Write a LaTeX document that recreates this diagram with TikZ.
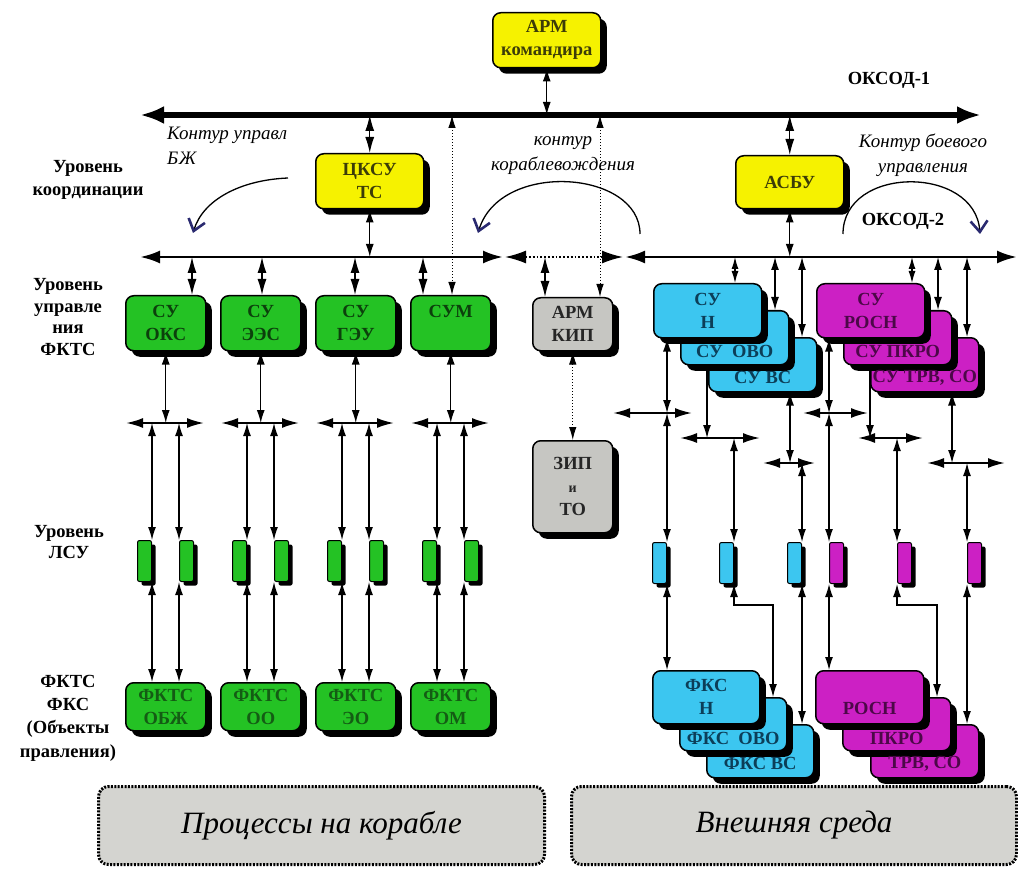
\documentclass[tikz,border=0pt]{standalone}
\usepackage{fontspec}
\setmainfont{Liberation Serif}
\usetikzlibrary{arrows.meta,shadows}

\definecolor{boxyellow}{HTML}{F6F200}
\definecolor{boxgreen}{HTML}{24C224}
\definecolor{boxcyan}{HTML}{3CC6F0}
\definecolor{boxmag}{HTML}{CC20C4}
\definecolor{boxgrey}{HTML}{C6C6C2}
\definecolor{panelgrey}{HTML}{D4D4D0}
\definecolor{navyink}{HTML}{2A2A70}
\definecolor{yellowink}{HTML}{3C3C08}
\definecolor{greenink}{HTML}{0C400C}
\definecolor{fktsink}{HTML}{145C14}
\definecolor{cyanink}{HTML}{0C3E58}
\definecolor{magink}{HTML}{4C0848}

\newcommand\bxfont{\bfseries\fontsize{18.5}{23}\selectfont}
\newcommand\lblfont{\bfseries\fontsize{18.5}{23}\selectfont}
\newcommand\itfont{\itshape\fontsize{19}{25}\selectfont}

\begin{document}
\begin{tikzpicture}[x=1pt,y=-1pt,
  box/.style={draw=black, line width=1.5pt, rounded corners=8pt, inner sep=0pt,
    align=center, anchor=north west, font=\bxfont,
    drop shadow={shadow xshift=6pt, shadow yshift=-6pt, fill=black, opacity=1}},
  ybox/.style={box, fill=boxyellow, text=yellowink, minimum width=108pt, minimum height=55pt},
  gbox/.style={box, fill=boxgreen, text=greenink, minimum width=80pt, minimum height=55pt},
  fbox/.style={box, fill=boxgreen, text=fktsink, minimum width=80pt, minimum height=48pt},
  sbox/.style={box, fill=boxgrey, text=black!85, minimum width=80pt},
  cbox/.style={box, fill=boxcyan, text=cyanink, minimum width=108pt, minimum height=54pt},
  mbox/.style={box, fill=boxmag, text=magink, minimum width=108pt, minimum height=54pt},
  cfks/.style={cbox, minimum width=107pt, minimum height=53pt},
  mfks/.style={mbox, minimum height=53pt},
  lsu/.style={draw=black, line width=1pt, rounded corners=2pt, inner sep=0pt,
    minimum width=14pt, minimum height=41pt,
    drop shadow={shadow xshift=4pt, shadow yshift=-4pt, fill=black, opacity=1}},
  lsug/.style={lsu, fill=boxgreen, anchor=north east},
  lsugr/.style={lsu, fill=boxgreen, anchor=north west},
  lsuc/.style={lsu, fill=boxcyan, anchor=north east},
  lsum/.style={lsu, fill=boxmag, anchor=north west},
  lbl/.style={font=\lblfont, align=center, inner sep=0pt},
  itl/.style={font=\itfont, inner sep=0pt},
  intxt/.style={font=\bxfont, inner sep=0pt},
  dbl/.style={line width=1.2pt, {Latex[length=13pt,width=8pt]}-{Latex[length=13pt,width=8pt]}},
  sgl/.style={line width=1.2pt, -{Latex[length=13pt,width=8pt]}},
  dia/.style={line width=1.2pt, {Latex[length=16pt,width=9pt]}-{Latex[length=16pt,width=9pt]}},
  diashort/.style={line width=1.2pt, {Latex[length=12pt,width=7pt]}-{Latex[length=12pt,width=7pt]}},
  dotarr/.style={line width=1pt, dotted, {Latex[length=13pt,width=7.5pt]}-{Latex[length=13pt,width=7.5pt]}},
  junc/.style={line width=2pt, {Latex[length=17pt,width=10pt]}-{Latex[length=17pt,width=10pt]}},
  busA/.style={line width=6pt, {Latex[length=24pt,width=18pt]}-{Latex[length=24pt,width=18pt]}},
  busB/.style={line width=2.8pt, {Latex[length=20pt,width=13pt]}-{Latex[length=20pt,width=13pt]}},
  busM/.style={line width=1.8pt, dotted, {Latex[length=21pt,width=13pt]}-{Latex[length=21pt,width=13pt]}},
  loop/.style={line width=1.3pt, -{Straight Barb[length=11pt,width=17pt,line width=2.6pt,color=navyink]}},
  panel/.style={draw=black, fill=panelgrey, line width=3pt, dash pattern=on 2pt off 1.4pt,
    rounded corners=10pt, minimum height=78pt, anchor=north west, inner sep=0pt,
    font=\itshape\fontsize{31}{33}\selectfont}
]
\useasboundingbox (0,0) rectangle (1018,869);

% ---------- buses ----------
\coordinate (b1w) at (140,115);
\coordinate (b1e) at (981,115);
\coordinate (b2w) at (140,257);
\coordinate (b2e) at (503,257);
\coordinate (b3w) at (505,257);
\coordinate (b3e) at (623,257);
\coordinate (b4w) at (625,257);
\coordinate (b4e) at (1017,257);
\draw[busA] (b1w) -- (b1e);
\draw[busB] (b2w) -- (b2e);
\draw[busM] (b3w) -- (b3e);
\draw[busB] (b4w) -- (b4e);

% ---------- coordination level ----------
\node[ybox] (armk) at (492,12) {АРМ\\командира};
\node[ybox, minimum height=55pt] (ckcu) at (315,153) {ЦКСУ\\ТС};
\node[ybox, minimum height=53pt] (asbu) at (735,155) {АСБУ};

\draw[dbl] (armk.south) -- (armk.south |- b1w);
\draw[dia] (ckcu.north) -- (ckcu.north |- b1w);
\draw[dbl] (ckcu.south) -- (ckcu.south |- b2w);
\draw[dia] (asbu.north) -- (asbu.north |- b1w);
\draw[dbl] (asbu.south) -- (asbu.south |- b4w);

\node[lbl] (oksod1) at (889,80) {ОКСОД-1};
\node[lbl] (oksod2) at (903,221) {ОКСОД-2};

\node[itl, align=left, anchor=north west] (kbzh) at (167,127) {Контур управл\\БЖ};
\node[itl, align=center] (knav) at (563,156) {контур\\кораблевождения};
\node[itl, align=center] (kbattle) at (923,155) {Контур боевого\\управления};

\coordinate (c1s) at (288,178);
\coordinate (c1e) at (193,233);
\draw[loop] (c1s) .. controls (240,180) and (203,200) .. (c1e);
\coordinate (c2s) at (640,234);
\coordinate (c2e) at (478,233);
\draw[loop] (c2s) .. controls (640,170) and (500,160) .. (c2e);
\coordinate (c3s) at (843,234);
\coordinate (c3e) at (980,234);
\draw[loop] (c3s) .. controls (843,165) and (975,165) .. (c3e);

% ---------- level labels ----------
\node[lbl] (lvl1) at (88,180) {Уровень\\координации};
\node[lbl, font=\bfseries\fontsize{18.5}{21.7}\selectfont] (lvl2) at (68,317) {Уровень\\управле\\ния\\ФКТС};
\node[lbl, font=\bfseries\fontsize{18.5}{20.5}\selectfont] (lvl3) at (69,542) {Уровень\\ЛСУ};
\node[lbl, font=\bfseries\fontsize{18.5}{23.3}\selectfont] (lvl4) at (68,718) {ФКТС\\ФКС\\(Объекты\\правления)};

% ---------- ship systems (green) ----------
\node[gbox] (su1) at (125,295) {СУ\\ОКС};
\node[gbox] (su2) at (220,295) {СУ\\ЭЭС};
\node[gbox] (su3) at (315,295) {СУ\\ГЭУ};
\node[gbox] (su4) at (410,295) {СУМ\\\phantom{СУ}};

\node[fbox] (fk1) at (125,682) {ФКТС\\ОБЖ};
\node[fbox] (fk2) at (220,682) {ФКТС\\ОО};
\node[fbox] (fk3) at (315,682) {ФКТС\\ЭО};
\node[fbox] (fk4) at (410,682) {ФКТС\\ОМ};

\foreach \i/\tx in {1/192,2/262,3/355,4/423}{
  \coordinate (tg\i) at (\tx,257);
  \draw[dia] (tg\i) -- (tg\i |- su\i.north);
}

\foreach \i/\cx in {1/165,2/260,3/355,4/450}{
  \coordinate (jg\i) at (\cx,423);
  \draw[dbl] (su\i.south) -- (su\i.south |- jg\i);
  \draw[junc] ([xshift=-39pt]jg\i) -- ([xshift=39pt]jg\i);
  \node[lsug]  (lg\i a) at (\cx-13,540) {};
  \node[lsugr] (lg\i b) at (\cx+14,540) {};
  \draw[dbl] (lg\i a.north east) -- (lg\i a.north east |- jg\i);
  \draw[dbl] (lg\i b.north west) -- (lg\i b.north west |- jg\i);
  \draw[dbl] (lg\i a.south east) -- (lg\i a.south east |- fk\i.north);
  \draw[dbl] (lg\i b.south west) -- (lg\i b.south west |- fk\i.north);
}

% ---------- instrumentation (grey) ----------
\node[sbox, minimum height=53pt] (armkip) at (532,297) {АРМ\\КИП};
\node[sbox, minimum height=92pt] (zip) at (532,440) {ЗИП\\{\fontsize{14}{23}\selectfont и}\\ТО};
\coordinate (tk) at (545,257);
\draw[dia] (tk) -- (tk |- armkip.north);
\draw[dotarr] (armkip.south) -- (zip.north);

% dotted links from the upper bus
\coordinate (ts) at (452,115);
\draw[dotarr] (ts) -- (ts |- su4.north);
\coordinate (tki) at (600,115);
\draw[dotarr] (tki) -- (tki |- armkip.north);

% ---------- navigation / weapons (cyan, magenta) ----------
\node[cbox] (suvs) at (708,337) {};
\node[cbox] (suovo) at (680,310) {};
\node[cbox] (sun) at (653,283) {СУ\\Н};
\node[intxt, text=cyanink] (tovo) at ([yshift=14pt]suovo.south) {СУ\ \ ОВО};
\node[intxt, text=cyanink] (tvs) at ([yshift=15pt]suvs.south) {СУ ВС};

\node[mbox] (sutrv) at (870,337) {};
\node[mbox] (supkro) at (843,310) {};
\node[mbox] (surosn) at (816,283) {СУ\\РОСН};
\node[intxt, text=magink] (tpkro) at ([yshift=14pt]supkro.south) {СУ ПКРО};
\node[intxt, text=magink] (ttrv) at ([yshift=15pt]sutrv.south) {СУ ТРВ, СО};

\node[cfks] (fvs) at (706,724) {};
\node[cfks] (fovo) at (679,697) {};
\node[cfks] (fn) at (652,670) {ФКС\\Н};
\node[intxt, text=cyanink] (tfovo) at ([yshift=13pt]fovo.south) {ФКС\ \ ОВО};
\node[intxt, text=cyanink] (tfvs) at ([yshift=15pt]fvs.south) {ФКС ВС};

\node[mfks] (ftrv) at (870,724) {};
\node[mfks] (fpkro) at (842,697) {};
\node[mfks] (frosn) at (815,670) {\phantom{ФКС}\\РОСН};
\node[intxt, text=magink] (tfpkro) at ([yshift=13pt]fpkro.south) {ПКРО};
\node[intxt, text=magink] (tftrv) at ([yshift=15pt]ftrv.south) {ТРВ, СО};

% taps from the lower bus
\coordinate (tc1) at (735,257);
\coordinate (tc2) at (775,257);
\coordinate (tc3) at (802,257);
\coordinate (tm1) at (912,257);
\coordinate (tm2) at (938,257);
\coordinate (tm3) at (967,257);
\draw[diashort] (tc1) -- (tc1 |- sun.north);
\draw[dbl] (tc2) -- (tc2 |- suovo.north);
\draw[dbl] (tc3) -- (tc3 |- suvs.north);
\draw[diashort] (tm1) -- (tm1 |- surosn.north);
\draw[dbl] (tm2) -- (tm2 |- supkro.north);
\draw[dbl] (tm3) -- (tm3 |- sutrv.north);

% local control units
\node[lsuc] (lc1) at (667,542) {};
\node[lsuc] (lc2) at (734,542) {};
\node[lsuc] (lc3) at (802,542) {};
\node[lsum] (lm1) at (829,542) {};
\node[lsum] (lm2) at (897,542) {};
\node[lsum] (lm3) at (967,542) {};

% junctions
\coordinate (jA) at (667,413);
\coordinate (jB) at (707,438);
\coordinate (jC) at (790,463);
\coordinate (jD) at (829,413);
\coordinate (jE) at (870,438);
\coordinate (jF) at (952,463);

\draw[dbl] (jA |- sun.south) -- (jA);
\draw[junc] ([xshift=-54pt]jA) -- ([xshift=25pt]jA);
\draw[dbl] (lc1.north east) -- (lc1.north east |- jA);

\draw[sgl] (jB |- suovo.south) -- (jB);
\draw[junc] ([xshift=-27pt]jB) -- ([xshift=53pt]jB);
\draw[dbl] (lc2.north east) -- (lc2.north east |- jB);

\draw[dbl] (jC |- suvs.south) -- (jC);
\draw[junc] ([xshift=-27pt]jC) -- ([xshift=25pt]jC);
\draw[dbl] (lc3.north east) -- (lc3.north east |- jC);

\draw[dbl] (jD |- surosn.south) -- (jD);
\draw[junc] ([xshift=-26pt]jD) -- ([xshift=39pt]jD);
\draw[dbl] (lm1.north west) -- (lm1.north west |- jD);

\draw[sgl] (jE |- supkro.south) -- (jE);
\draw[junc] ([xshift=-12pt]jE) -- ([xshift=53pt]jE);
\draw[dbl] (lm2.north west) -- (lm2.north west |- jE);

\draw[dbl] (jF |- sutrv.south) -- (jF);
\draw[junc] ([xshift=-25pt]jF) -- ([xshift=53pt]jF);
\draw[dbl] (lm3.north west) -- (lm3.north west |- jF);

% links to the objects
\coordinate (kB) at (773,605);
\coordinate (kE) at (937,605);
\draw[dbl] (lc1.south east) -- (lc1.south east |- fn.north);
\draw[dbl] (lc2.south east) |- (kB) -- (kB |- fovo.north);
\draw[dbl] (lc3.south east) -- (lc3.south east |- fvs.north);
\draw[dbl] (lm1.south west) -- (lm1.south west |- frosn.north);
\draw[dbl] (lm2.south west) |- (kE) -- (kE |- fpkro.north);
\draw[dbl] (lm3.south west) -- (lm3.south west |- ftrv.north);

% ---------- environment panels ----------
\node[panel, minimum width=446pt] (pship) at (97,785) {Процессы на корабле};
\node[panel, minimum width=445pt] (pext) at (570,785) {Внешняя среда};
\end{tikzpicture}
\end{document}
